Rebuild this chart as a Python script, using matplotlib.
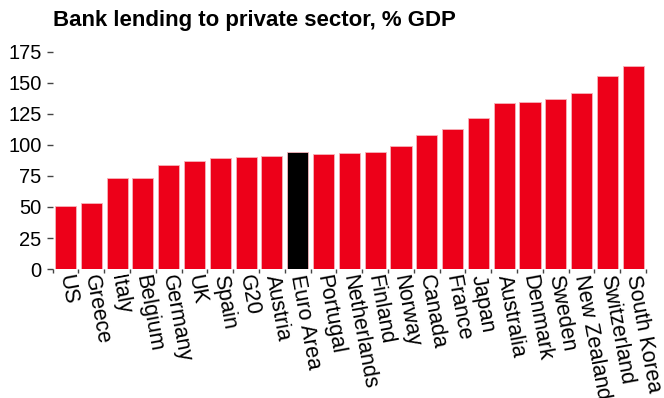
import matplotlib.pyplot as plt
import matplotlib.transforms as mtransforms
import numpy as np

plt.rcParams['font.family'] = ['Liberation Sans', 'DejaVu Sans']

countries = ['US', 'Greece', 'Italy', 'Belgium', 'Germany', 'UK', 'Spain', 'G20',
             'Austria', 'Euro Area', 'Portugal', 'Netherlands', 'Finland', 'Norway',
             'Canada', 'France', 'Japan', 'Australia', 'Denmark', 'Sweden',
             'New Zealand', 'Switzerland', 'South Korea']
lending = [51, 53, 73, 73.5, 83.5, 87, 89.3, 90, 91, 94.6, 93, 93.5, 94, 99,
           107.8, 112.5, 121.5, 134, 134.5, 136.8, 141.8, 155.3, 163.3]

colors = ['#000000' if c == 'Euro Area' else '#ED0019' for c in countries]

fig = plt.figure(figsize=(6.64, 3.98), dpi=100)
ax = fig.add_axes([0.0792, 0.324, 0.8938, 0.546])

x = np.arange(len(countries))
ax.bar(x, lending, width=0.82, color=colors, edgecolor='#f7b3ba', linewidth=0.6)

ax.set_xlim(-0.5, len(countries) - 0.5)
ax.set_ylim(0, 175)
ax.set_yticks(np.arange(0, 176, 25))

for s in ax.spines.values():
    s.set_visible(False)

ax.set_xticks(x)
ax.set_xticklabels(countries, rotation=-79.5, ha='left', va='center',
                   rotation_mode='anchor', fontsize=15.5)
ax.tick_params(axis='x', length=0, pad=4)
ax.set_xticks(np.arange(-0.5, len(countries), 1), minor=True)
ax.tick_params(axis='x', which='minor', length=3, color='#444444', width=1)
ax.tick_params(axis='y', length=4, color='#444444', width=1, pad=4, labelsize=14.5)

# nudge the rotated labels a little to the left
shift = mtransforms.ScaledTranslation(-1 / 100, 0, fig.dpi_scale_trans)
for lab in ax.get_xticklabels():
    lab.set_transform(lab.get_transform() + shift)

fig.text(0.0798, 0.948, 'Bank lending to private sector, % GDP', fontsize=16,
         fontweight='bold', ha='left', va='center')

fig.savefig('out.png', dpi=100)
